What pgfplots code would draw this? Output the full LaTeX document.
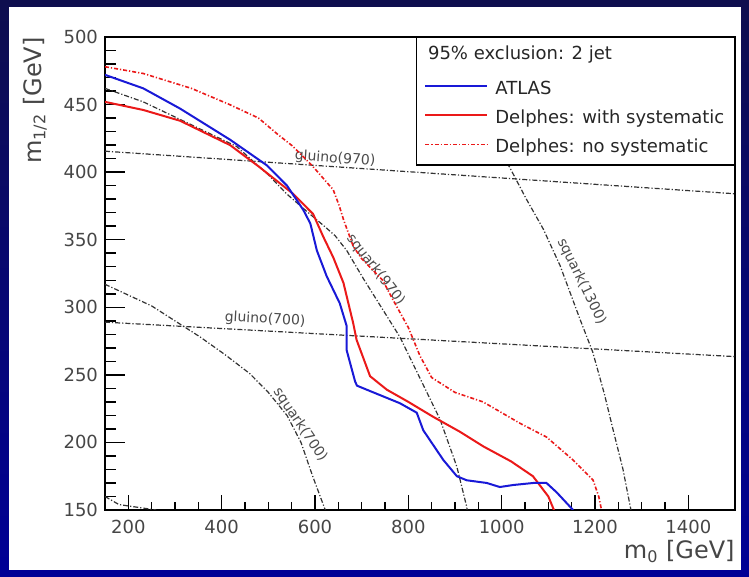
\documentclass[border=0pt]{standalone}
\usepackage{pgfplots}
\pgfplotsset{compat=1.18}
\usepackage{fontspec}
\setmainfont{DejaVu Sans}
\definecolor{bgtop}{RGB}{14,14,78}
\definecolor{bgbot}{RGB}{0,0,150}
\definecolor{labgray}{RGB}{70,70,70}
\definecolor{atlasblue}{RGB}{25,25,215}
\definecolor{delred}{RGB}{235,25,25}
\pgfplotsset{theory/.style={black!80, line width=0.6pt, dash pattern=on 2.5pt off 1pt on 0.6pt off 1pt}}
\begin{document}
\begin{tikzpicture}
\shade[top color=bgtop,bottom color=bgbot] (-52.5pt,-33.5pt) rectangle (322pt,255pt);
\fill[white] (-48pt,-30pt) rectangle (318pt,251.5pt);
\begin{axis}[
  at={(0pt,0pt)}, anchor=south west,
  width=315pt, height=236.5pt, scale only axis,
  xmin=150, xmax=1500, ymin=150, ymax=500,
  xtick={200,400,...,1400}, ytick={150,200,...,500},
  minor x tick num=3, minor y tick num=4,
  tick align=inside, tick pos=left,
  major tick length=10pt, minor tick length=5.5pt,
  xtick style={/pgfplots/major tick length=7.5pt,/pgfplots/minor tick length=4pt},
  axis line style={line width=0.75pt},
  tick style={black, line width=0.75pt},
  scaled ticks=false,
  /pgf/number format/assume math mode=true,
  /pgf/number format/1000 sep={},
  ticklabel style={font=\fontsize{9}{10}\selectfont, text=labgray},
  xticklabel style={yshift=-1.5pt},
  xlabel={m\textsubscript{0} [GeV]},
  ylabel={m\textsubscript{1/2} [GeV]},
  label style={font=\fontsize{12}{14}\selectfont, text=labgray},
  xlabel style={at={(axis description cs:1,-0.0634)}, anchor=north east, inner sep=0pt},
  ylabel style={at={(axis description cs:-0.111,1)}, anchor=east, inner sep=0pt},
  legend style={at={(1,1)}, anchor=north east, draw=black, line width=0.75pt, fill=white,
    font=\fontsize{9}{10}\selectfont, text=black!85, inner xsep=4pt, inner ysep=3pt,
    row sep=0pt, nodes={inner sep=1pt, text depth=}},
  legend cell align=left,
  legend image code/.code={\draw[#1] (0pt,0pt) -- (31pt,0pt); \path (33.5pt,0pt);},
]
% theory curves
\addplot[theory, forget plot] coordinates {(150,415.5) (1500,384)};
\addplot[theory, forget plot] coordinates {(150,289) (1500,263.5)};
\addplot[theory, forget plot] coordinates {(150,317) (250,301) (354,278) (407,265) (460,251) (500,237) (540,220) (570,200) (595,175) (622,150)};
\addplot[theory, forget plot] coordinates {(150,462) (232,452) (311,439) (432,419) (500,398) (539,384) (589,369) (620,360) (643,353) (668,342) (704,321) (782,278) (868,217) (904,182) (925,152.5) (926,150)};
\addplot[theory, forget plot] coordinates {(990,420) (1018,403) (1053,380) (1089,358) (1125,331) (1168,291) (1195,267) (1220,236) (1239,209) (1260,180) (1277,150)};
\addplot[theory, forget plot] coordinates {(150,160) (180,154) (260,150)};
\node[rotate=-3.9, font=\fontsize{7}{8}\selectfont, text=black!70] at (axis cs:643,410) {gluino(970)};
\node[rotate=-3.1, font=\fontsize{7}{8}\selectfont, text=black!70] at (axis cs:493,291) {gluino(700)};
\node[rotate=-56, font=\fontsize{7}{8}\selectfont, text=black!70] at (axis cs:568,213) {squark(700)};
\node[rotate=-52, font=\fontsize{7}{8}\selectfont, text=black!70] at (axis cs:730,328) {squark(970)};
\node[rotate=-64, font=\fontsize{7}{8}\selectfont, text=black!70] at (axis cs:1171,319) {squark(1300)};
% data curves
\addplot[delred, line width=0.8pt, dash pattern=on 2pt off 1pt on 0.6pt off 1pt, forget plot] coordinates {(150,478) (232,473) (335,462) (417,450) (479,440) (520,428) (553,419) (596,404) (639,387) (652,375) (661,365) (682,345) (700,336) (745,320) (768,305) (800,285) (825,264) (850,248) (900,237) (960,230) (1040,214) (1096,204) (1153,187) (1196,172) (1208,160) (1214,150)};
\addplot[delred, line width=1pt, forget plot] coordinates {(150,452) (232,446) (311,438) (418,420) (480,404) (553,384) (596,369) (618,352) (639,337) (661,318) (682,288) (689,276) (718,249) (754,239) (800,230) (853,219) (910,208) (961,197) (1020,186) (1067,175) (1100,160) (1112,150)};
\addplot[atlasblue, line width=1pt, forget plot] coordinates {(150,472) (232,462) (311,447) (418,424) (497,405) (540,390) (575,372) (590,362) (604,342) (625,323) (653,303) (668,286) (668,268) (686,245) (690,242) (711,239) (782,229) (818,222) (832,209) (875,187) (904,175) (925,172) (968,170) (996,167) (1025,168.5) (1068,170) (1096,170) (1118,163) (1153,150)};
% legend
\addlegendimage{empty legend}
\addlegendentry{\hspace*{-33.65pt}\rule[-5.25pt]{0pt}{11.6pt}95\% exclusion: 2 jet}
\addlegendimage{atlasblue, line width=1pt}
\addlegendentry{\rule[-2.25pt]{0pt}{12.5pt}ATLAS}
\addlegendimage{delred, line width=1pt}
\addlegendentry{\rule[-2.25pt]{0pt}{12.5pt}Delphes: with systematic}
\addlegendimage{delred, line width=0.8pt, dash pattern=on 2pt off 1pt on 0.6pt off 1pt}
\addlegendentry{\rule[-2.25pt]{0pt}{12.5pt}Delphes: no systematic}
\end{axis}
\end{tikzpicture}
\end{document}
